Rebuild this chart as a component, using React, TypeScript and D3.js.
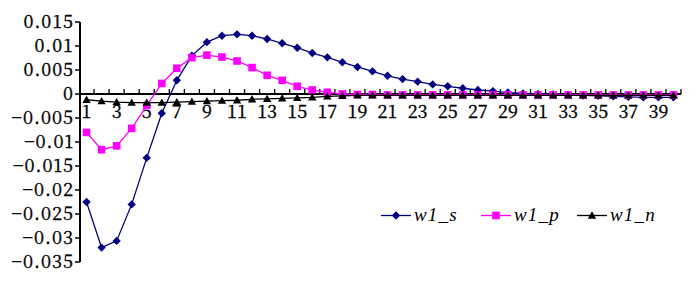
import React from "react";
import * as d3 from "d3";

const categories: number[] = Array.from({ length: 40 }, (_, i) => i + 1);

const w1_s: number[] = [
  -0.0225, -0.032, -0.0306, -0.023, -0.0133, -0.004, 0.00285, 0.008, 0.0108, 0.01215,
  0.01243, 0.01215, 0.01146, 0.01056, 0.00965, 0.00854, 0.00764, 0.0066, 0.00563, 0.00472,
  0.0038, 0.0031, 0.00257, 0.002, 0.0016, 0.0012, 0.00083, 0.0006, 0.0003, 0.0001,
  0.0, -0.0001, -0.0002, -0.0003, -0.0004, -0.0005, -0.0006, -0.0007, -0.0007, -0.0007,
];
const w1_p: number[] = [
  -0.008, -0.0116, -0.0108, -0.00715, -0.0024, 0.0022, 0.00535, 0.00757, 0.0081, 0.0077,
  0.00688, 0.0055, 0.0039, 0.00285, 0.0016, 0.00083, 0.00035, 0.0, -0.0001, -0.0001,
  -0.0002, -0.0002, -0.0002, -0.0002, -0.0002, -0.0002, -0.0002, -0.0002, -0.0002, -0.0002,
  -0.0002, -0.0002, -0.0002, -0.0002, -0.0002, -0.0002, -0.0002, -0.0002, -0.0002, -0.0002,
];
const w1_n: number[] = [
  -0.0012, -0.0015, -0.0017, -0.0018, -0.0018, -0.0018, -0.0017, -0.0016, -0.0015, -0.0014,
  -0.0013, -0.0011, -0.001, -0.0009, -0.0008, -0.0007, -0.0005, -0.0004, -0.0003, -0.0003,
  -0.0003, -0.0003, -0.0003, -0.0003, -0.0003, -0.0003, -0.0003, -0.0003, -0.0003, -0.0003,
  -0.0003, -0.0003, -0.0003, -0.0003, -0.0003, -0.0003, -0.0003, -0.0003, -0.0003, -0.0003,
];
const yTicks: number[] = [0.015, 0.01, 0.005, 0, -0.005, -0.01, -0.015, -0.02, -0.025, -0.03, -0.035];
const seriesNames: string[] = ["w1_s", "w1_p", "w1_n"];
const seriesColors: string[] = ["#000080", "#FF00FF", "#000000"];

const W = 700;
const H = 286;
const FONT = "Noto Serif CJK SC";

function Marker({ kind, x, y, color }: { kind: number; x: number; y: number; color: string }) {
  if (kind === 0) {
    const s = 4.2;
    return <path d={`M${x},${y - s}L${x + s},${y}L${x},${y + s}L${x - s},${y}Z`} fill={color} />;
  }
  if (kind === 1) {
    const s = 3.8;
    return <rect x={x - s} y={y - s} width={2 * s} height={2 * s} fill={color} />;
  }
  const s = 4.2;
  return <path d={`M${x},${y - s}L${x + s},${y + s * 0.75}L${x - s},${y + s * 0.75}Z`} fill={color} />;
}

export default function App() {
  const x = d3.scaleBand<number>().domain(categories).range([79, 681]).padding(0);
  const y = d3.scaleLinear().domain([-0.035, 0.015]).range([262, 22]);
  const cx = (c: number) => (x(c) as number) + x.bandwidth() / 2;
  const data = [w1_s, w1_p, w1_n];
  const line = d3
    .line<number>()
    .x((_, i) => cx(categories[i]))
    .y((d) => y(d));

  const fmt = (v: number) => {
    if (v === 0) return "0";
    const s = String(+v.toFixed(3));
    return s.replace("-", "\u2212");
  };

  const legendX = [381, 481, 577];
  const legendY = 215.5;
  const textStyle: React.CSSProperties = { fontFamily: FONT, fontSize: 18 };

  return (
    <svg width={W} height={H} style={{ position: "absolute", left: 0, top: 0, background: "#fff" }}>
      <rect x={0} y={0} width={W} height={H} fill="#fff" />
      {/* y axis */}
      <line x1={80} x2={80} y1={y(0.015)} y2={y(-0.035)} stroke="#000" strokeWidth={2} />
      {yTicks.map((t) => (
        <g key={t}>
          <line x1={75} x2={80} y1={y(t)} y2={y(t)} stroke="#000" strokeWidth={1.5} />
          <text
            x={74}
            y={y(t)}
            dy="0.35em"
            textAnchor="end"
            stroke="#000"
            strokeWidth={0.35}
            style={{ ...textStyle, letterSpacing: "1px" }}
          >
            {fmt(t)}
          </text>
        </g>
      ))}
      {/* x axis */}
      <line x1={79} x2={681} y1={y(0)} y2={y(0)} stroke="#000" strokeWidth={2} />
      {categories.map((c) => (
        <line
          key={"t" + c}
          x1={(x(c) as number) + x.bandwidth()}
          x2={(x(c) as number) + x.bandwidth()}
          y1={y(0) - 5}
          y2={y(0)}
          stroke="#000"
          strokeWidth={1.3}
        />
      ))}
      {categories
        .filter((c) => c % 2 === 1)
        .map((c) => (
          <text
            key={"l" + c}
            x={cx(c)}
            y={118}
            textAnchor="middle"
            stroke="#000"
            strokeWidth={0.35}
            style={textStyle}
          >
            {c}
          </text>
        ))}
      {/* series */}
      {data.map((vals, si) => (
        <g key={si}>
          <path d={line(vals) || ""} fill="none" stroke={seriesColors[si]} strokeWidth={1.3} />
          {vals.map((v, i) => (
            <Marker key={i} kind={si} x={cx(categories[i])} y={y(v)} color={seriesColors[si]} />
          ))}
        </g>
      ))}
      {/* legend */}
      {seriesNames.map((n, si) => (
        <g key={n}>
          <line
            x1={legendX[si]}
            x2={legendX[si] + 30}
            y1={legendY}
            y2={legendY}
            stroke={seriesColors[si]}
            strokeWidth={1.3}
          />
          <Marker kind={si} x={legendX[si] + 15} y={legendY} color={seriesColors[si]} />
          <text
            x={legendX[si] + 33}
            y={legendY}
            dy="0.3em"
            style={{ fontFamily: "Liberation Serif", fontSize: 19, fontStyle: "italic", letterSpacing: "1.2px" }}
          >
            {n}
          </text>
        </g>
      ))}
    </svg>
  );
}
